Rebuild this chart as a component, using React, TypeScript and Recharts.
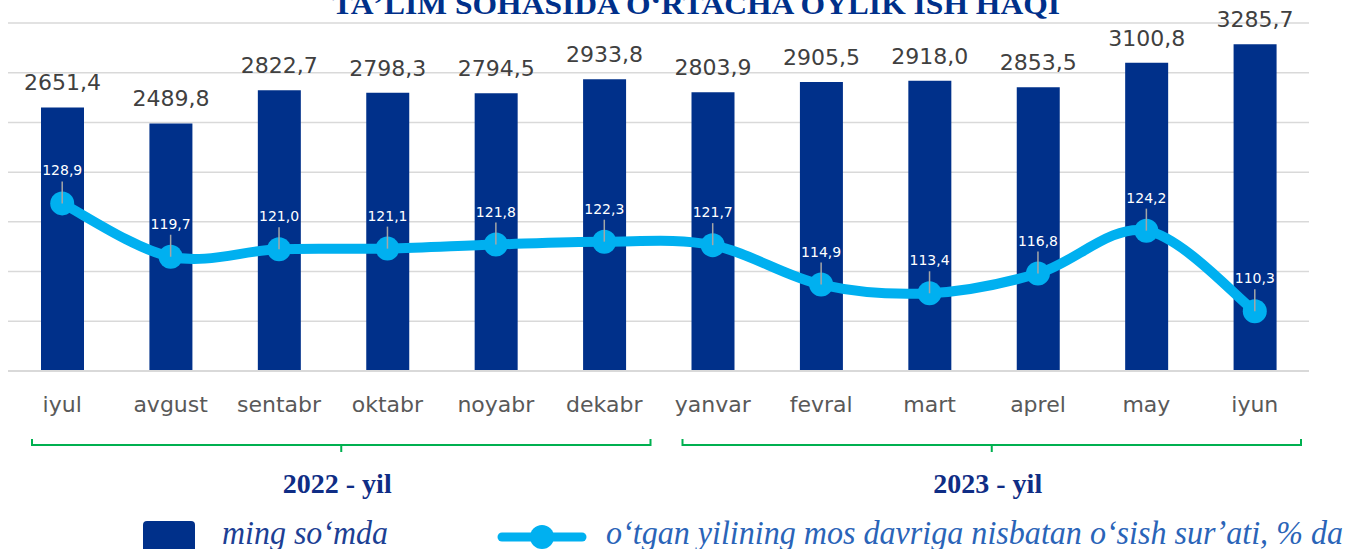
import React from "react";
import {
  ComposedChart, Bar, Line, XAxis, YAxis, CartesianGrid, LabelList
} from "recharts";

if (typeof document !== "undefined") document.body.style.margin = "0";

const months = [
  "iyul", "avgust", "sentabr", "oktabr", "noyabr", "dekabr",
  "yanvar", "fevral", "mart", "aprel", "may", "iyun",
];
const salary = [
  2651.4, 2489.8, 2822.7, 2798.3, 2794.5, 2933.8,
  2803.9, 2905.5, 2918.0, 2853.5, 3100.8, 3285.7,
];
const growth = [
  128.9, 119.7, 121.0, 121.1, 121.8, 122.3,
  121.7, 114.9, 113.4, 116.8, 124.2, 110.3,
];
const salaryTicks = [0, 500, 1000, 1500, 2000, 2500, 3000, 3500];
const yearGroups = [
  { label: "2022 - yil", from: 0, to: 5 },
  { label: "2023 - yil", from: 6, to: 11 },
];

const data = months.map((m, i) => ({ month: m, salary: salary[i], growth: growth[i] }));

const W = 1348;
const H = 549;
const M = { top: 23, right: 39, bottom: 138, left: 8 };
const X_AXIS_H = 40;
const NAVY = "#00308a";
const CYAN = "#00b0f0";
const NUM_FONT = "'DejaVu Sans', sans-serif";
const SERIF = "'Liberation Serif', serif";

const fmt = (v: number) => v.toFixed(1).replace(".", ",");

// Excel-style smoothed line (bezier with 1/6 tangents)
function smoothCurve(context: any) {
  let pts: number[][] = [];
  return {
    areaStart() {},
    areaEnd() {},
    lineStart() { pts = []; },
    point(x: number, y: number) { pts.push([+x, +y]); },
    lineEnd() {
      if (!pts.length) return;
      context.moveTo(pts[0][0], pts[0][1]);
      for (let i = 0; i < pts.length - 1; i++) {
        const p0 = pts[i - 1] || pts[i];
        const p1 = pts[i];
        const p2 = pts[i + 1];
        const p3 = pts[i + 2] || p2;
        context.bezierCurveTo(
          p1[0] + (p2[0] - p0[0]) / 6, p1[1] + (p2[1] - p0[1]) / 6,
          p2[0] - (p3[0] - p1[0]) / 6, p2[1] - (p3[1] - p1[1]) / 6,
          p2[0], p2[1]
        );
      }
    },
  };
}

const GrowthLabel = (props: any) => {
  const { x, y, value } = props;
  if (x == null || y == null) return null;
  return (
    <g>
      <line x1={x} y1={y - 22} x2={x} y2={y} stroke="#a6a6a6" strokeWidth={1.5} />
      <text x={x} y={y - 28} textAnchor="middle" fill="#ffffff" fontSize={14} fontFamily={NUM_FONT}>
        {fmt(Number(value))}
      </text>
    </g>
  );
};

export default function App() {
  const plotL = M.left;
  const plotR = W - M.right;
  const band = (plotR - plotL) / months.length;

  return (
    <div style={{ position: "relative", width: W, height: H, overflow: "hidden", background: "#fff" }}>
      <ComposedChart width={W} height={H} data={data} margin={M}>
        <CartesianGrid vertical={false} yAxisId="sal" stroke="#d9d9d9" strokeWidth={1.5} />
        <XAxis
          dataKey="month"
          height={X_AXIS_H}
          axisLine={{ stroke: "#d9d9d9", strokeWidth: 2 }}
          tickLine={false}
          tickMargin={19}
          interval={0}
          tick={{ fontSize: 22, fill: "#595959", fontFamily: NUM_FONT }}
        />
        <YAxis yAxisId="sal" hide domain={[0, 3500]} ticks={salaryTicks} />
        <YAxis yAxisId="pct" hide orientation="right" domain={[100, 160]} />
        <Bar yAxisId="sal" dataKey="salary" fill={NAVY} barSize={43} isAnimationActive={false}>
          <LabelList
            dataKey="salary"
            position="top"
            offset={17}
            formatter={(v: any) => fmt(Number(v))}
            style={{ fontSize: 22, fill: "#404040", fontFamily: NUM_FONT }}
          />
        </Bar>
        <Line
          yAxisId="pct"
          dataKey="growth"
          type={smoothCurve as any}
          stroke={CYAN}
          strokeWidth={10}
          dot={{ r: 12, fill: CYAN, stroke: "none" }}
          activeDot={false}
          isAnimationActive={false}
        >
          <LabelList dataKey="growth" content={GrowthLabel} />
        </Line>
      </ComposedChart>

      <svg width={W} height={H} style={{ position: "absolute", left: 0, top: 0, pointerEvents: "none" }}>
        <text x={696} y={14} textAnchor="middle" fill={NAVY} fontSize={30} fontWeight="bold"
          fontFamily={SERIF} textLength={728} lengthAdjust="spacingAndGlyphs">
          TAʼLIM SOHASIDA OʻRTACHA OYLIK ISH HAQI
        </text>

        {yearGroups.map((g) => {
          const x1 = plotL + g.from * band + 24;
          const x2 = plotL + (g.to + 1) * band - 8;
          const cx = (x1 + x2) / 2;
          return (
            <g key={g.label}>
              <path d={`M${x1},439 V445 H${x2} V439 M${cx},445 V452`} stroke="#00b050"
                strokeWidth={2} fill="none" />
              <text x={cx - 4} y={493} textAnchor="middle" fill="#0f2d85" fontSize={28}
                fontWeight="bold" fontFamily={SERIF}>
                {g.label}
              </text>
            </g>
          );
        })}

        <rect x={143} y={521} width={52} height={34} rx={4} fill={NAVY} />
        <text x={222} y={544} fill="#1d3f94" fontSize={34} fontStyle="italic" fontFamily={SERIF}
          textLength={166} lengthAdjust="spacingAndGlyphs">
          ming soʻmda
        </text>
        <line x1={502} y1={537} x2={582} y2={537} stroke={CYAN} strokeWidth={9} strokeLinecap="round" />
        <circle cx={542} cy={537} r={12} fill={CYAN} />
        <text x={606} y={544} fill="#2a64b8" fontSize={34} fontStyle="italic" fontFamily={SERIF}
          textLength={737} lengthAdjust="spacingAndGlyphs">
          oʻtgan yilining mos davriga nisbatan oʻsish surʼati, % da
        </text>
      </svg>
    </div>
  );
}
